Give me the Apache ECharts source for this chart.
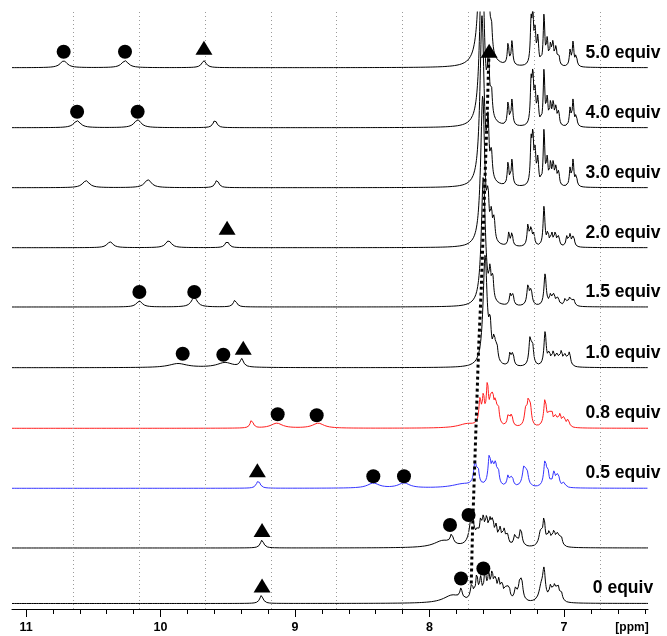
<!DOCTYPE html>
<html>
<head>
<meta charset="utf-8">
<script src="https://cdn.jsdelivr.net/npm/echarts@6/dist/echarts.min.js"></script>
<style>
  html, body { margin: 0; padding: 0; background: #fff; }
  #chart { width: 667px; height: 636px; }
</style>
</head>
<body>
<div id="chart"></div>
<script>
// 1H NMR titration series. Each trace is a list of resonances:
// [chemical shift (ppm), intensity above the trace baseline, half width (ppm)].

const traceLabels = ['0 equiv', '', '0.5 equiv', '0.8 equiv', '1.0 equiv',
                     '1.5 equiv', '2.0 equiv', '3.0 equiv', '4.0 equiv', '5.0 equiv'];

const peaks_0 = [
  [9.250, 8, 0.015],
  [7.830, 8, 0.080], [7.766, 10, 0.010], [7.686, 16, 0.012], [7.649, 24, 0.010],
  [7.620, 20, 0.010], [7.587, 28, 0.010], [7.560, 22, 0.010], [7.535, 25, 0.010],
  [7.510, 20, 0.010], [7.485, 18, 0.010], [7.460, 16, 0.010], [7.430, 12, 0.010],
  [7.410, 14, 0.010], [7.360, 12, 0.012], [7.330, 15, 0.012], [7.315, 17, 0.012],
  [7.170, 14, 0.020], [7.149, 28, 0.012], [7.100, 14, 0.012], [7.070, 14, 0.012],
  [7.045, 14, 0.012], [7.020, 8, 0.010]
];
const peaks_1 = [
  [9.245, 8, 0.015],
  [7.900, 7, 0.080], [7.835, 10, 0.012], [7.686, 32, 0.020], [7.645, 10, 0.010],
  [7.620, 20, 0.010], [7.600, 22, 0.010], [7.575, 24, 0.010], [7.550, 20, 0.010],
  [7.530, 22, 0.010], [7.505, 17, 0.010], [7.475, 16, 0.010], [7.445, 15, 0.010],
  [7.420, 10, 0.010], [7.364, 12, 0.012], [7.322, 18, 0.012], [7.175, 14, 0.015],
  [7.149, 26, 0.010], [7.110, 14, 0.012], [7.075, 14, 0.012], [7.045, 13, 0.012],
  [7.020, 8, 0.010]
];
const peaks_05 = [
  [9.273, 8, 0.015], [8.418, 5, 0.050], [8.190, 5, 0.050],
  [7.750, 4, 0.100], [7.662, 22, 0.012], [7.640, 15, 0.010], [7.555, 30, 0.012],
  [7.530, 18, 0.010], [7.510, 18, 0.010], [7.490, 15, 0.010], [7.416, 11, 0.010],
  [7.387, 11, 0.010], [7.297, 20, 0.015], [7.275, 12, 0.012], [7.141, 26, 0.012],
  [7.120, 12, 0.010], [7.075, 14, 0.012], [7.045, 13, 0.012], [7.000, 5, 0.010]
];
const peaks_08 = [
  [9.322, 9, 0.012], [9.136, 5, 0.050], [8.827, 5, 0.050],
  [7.720, 4, 0.080], [7.625, 24, 0.010], [7.600, 26, 0.010], [7.570, 38, 0.010],
  [7.545, 20, 0.010], [7.530, 22, 0.010], [7.510, 20, 0.010], [7.490, 18, 0.010],
  [7.414, 12, 0.010], [7.390, 12, 0.010], [7.285, 16, 0.012], [7.265, 22, 0.010],
  [7.250, 16, 0.010], [7.141, 28, 0.012], [7.110, 11, 0.010], [7.090, 12, 0.010],
  [7.060, 11, 0.010], [7.030, 12, 0.010], [7.000, 10, 0.010], [6.970, 8, 0.010]
];
const peaks_10 = [
  [9.870, 4, 0.080], [9.520, 5, 0.070], [9.396, 8, 0.015],
  [7.587, 110, 0.018], [7.550, 30, 0.010], [7.520, 22, 0.010], [7.500, 16, 0.010],
  [7.401, 14, 0.008], [7.380, 14, 0.008], [7.253, 26, 0.010], [7.235, 20, 0.010],
  [7.141, 34, 0.010], [7.110, 12, 0.010], [7.080, 13, 0.010], [7.050, 12, 0.010],
  [7.020, 14, 0.010], [6.990, 12, 0.010], [6.960, 14, 0.010]
];
const peaks_15 = [
  [10.157, 6, 0.025], [9.749, 10, 0.025], [9.446, 7, 0.015],
  [7.600, 130, 0.018], [7.550, 26, 0.008], [7.530, 22, 0.008], [7.400, 11, 0.008],
  [7.380, 11, 0.008], [7.268, 20, 0.010], [7.245, 15, 0.010], [7.141, 32, 0.010],
  [7.100, 10, 0.010], [7.075, 11, 0.010], [7.045, 8, 0.010], [6.990, 8, 0.010],
  [6.955, 10, 0.010], [6.930, 7, 0.010]
];
const peaks_20 = [
  [10.375, 6, 0.025], [9.940, 7, 0.025], [9.505, 7, 0.015],
  [7.605, 150, 0.018], [7.565, 35, 0.008], [7.540, 25, 0.008], [7.520, 22, 0.008],
  [7.410, 14, 0.007], [7.387, 14, 0.007], [7.268, 22, 0.008], [7.245, 18, 0.008],
  [7.225, 12, 0.008], [7.149, 40, 0.008], [7.120, 14, 0.008], [7.090, 12, 0.008],
  [7.065, 14, 0.008], [7.040, 10, 0.008], [6.980, 10, 0.008], [6.955, 12, 0.008],
  [6.930, 12, 0.008]
];
const peaks_30 = [
  [10.554, 7, 0.030], [10.093, 8, 0.030], [9.580, 8, 0.015],
  [7.610, 170, 0.018], [7.565, 50, 0.008], [7.540, 25, 0.008], [7.416, 24, 0.007],
  [7.387, 26, 0.007], [7.245, 40, 0.007], [7.232, 45, 0.007], [7.215, 30, 0.007],
  [7.195, 25, 0.007], [7.149, 55, 0.007], [7.125, 25, 0.007], [7.100, 22, 0.007],
  [7.080, 22, 0.007], [7.060, 18, 0.007], [7.040, 14, 0.007], [6.955, 18, 0.007],
  [6.933, 26, 0.007], [6.910, 12, 0.007]
];
const peaks_40 = [
  [10.620, 7, 0.030], [10.170, 8, 0.030], [9.595, 8, 0.015],
  [7.610, 190, 0.018], [7.562, 55, 0.008], [7.540, 25, 0.008], [7.416, 24, 0.007],
  [7.387, 26, 0.007], [7.245, 40, 0.007], [7.232, 45, 0.007], [7.215, 30, 0.007],
  [7.195, 25, 0.007], [7.149, 55, 0.007], [7.125, 25, 0.007], [7.100, 22, 0.007],
  [7.080, 22, 0.007], [7.060, 18, 0.007], [7.040, 14, 0.007], [6.955, 18, 0.007],
  [6.933, 26, 0.007], [6.910, 12, 0.007]
];
const peaks_50 = [
  [10.720, 7, 0.030], [10.264, 7, 0.030], [9.677, 7, 0.020],
  [7.610, 260, 0.018], [7.560, 60, 0.008], [7.540, 25, 0.008], [7.416, 22, 0.007],
  [7.387, 24, 0.007], [7.245, 40, 0.007], [7.232, 44, 0.007], [7.215, 30, 0.007],
  [7.195, 26, 0.007], [7.149, 50, 0.007], [7.125, 24, 0.007], [7.100, 20, 0.007],
  [7.082, 22, 0.007], [7.060, 18, 0.007], [7.040, 12, 0.007], [6.955, 16, 0.007],
  [6.933, 24, 0.007], [6.910, 12, 0.007]
];
const tracePeaks = [peaks_0, peaks_1, peaks_05, peaks_08, peaks_10,
                    peaks_15, peaks_20, peaks_30, peaks_40, peaks_50];

// Assignment markers: [trace index, ppm, height above baseline]
const circleMarks = [
  [9, 10.72, 16], [9, 10.264, 16], [8, 10.62, 16], [8, 10.17, 16],
  [5, 10.157, 15], [5, 9.749, 15], [4, 9.835, 14], [4, 9.533, 13],
  [3, 9.129, 14], [3, 8.839, 13], [2, 8.418, 12], [2, 8.190, 12],
  [1, 7.848, 23], [1, 7.710, 33], [0, 7.766, 25], [0, 7.600, 35]
];
const triangleMarks = [
  [9, 9.677, 20], [9, 7.557, 17], [6, 9.505, 20], [4, 9.385, 20],
  [2, 9.280, 18], [1, 9.245, 18], [0, 9.245, 18]
];
// Position of the tracked resonance in each trace (ppm)
const trackShift = [7.690, 7.680, 7.665, 7.650, 7.635, 7.615, 7.600, 7.585, 7.570, 7.557];

// Axis ticks (ppm)
const majorTicks = [7, 8, 9, 10, 11];
const minorTicks = [6.4, 6.6, 6.8, 7.2, 7.4, 7.6, 7.8, 8.2, 8.4, 8.6, 8.8,
                    9.2, 9.4, 9.6, 9.8, 10.2, 10.4, 10.6, 10.8];
const gridShifts = [10.65, 10.16, 9.67, 9.18, 8.69, 8.20, 7.71, 7.22, 6.73];

// ---- layout & styles ----
const X_MIN = 6.376, X_MAX = 11.104, STEP = 0.002;
const PLOT_TOP = 12, PLOT_BOTTOM = 609;         // pixel rows of plot area
const Y_MAX = PLOT_BOTTOM - PLOT_TOP;
const baselinePx = [603.5, 548, 488.3, 428.3, 367.7, 307, 247.7, 187.7, 127.7, 67.7];
const baseline = baselinePx.map(p => PLOT_BOTTOM - p);
const traceColor = i => (i === 2 ? '#3535ff' : i === 3 ? '#ff1e1e' : '#000000');
const FONT = '"Liberation Sans", Arial, Helvetica, sans-serif';

function buildTrace(peaks, offset) {
  const pts = [];
  const n = Math.round((X_MAX - X_MIN) / STEP);
  for (let k = 0; k <= n; k++) {
    const x = X_MAX - k * STEP;
    let y = 0;
    for (const [p, h, w] of peaks) {
      const d = (x - p) / w;
      y += h / (1 + d * d);
    }
    pts.push([x, offset + y]);
  }
  return pts;
}

const series = [];

// dotted vertical grid
series.push({
  type: 'line', data: [], silent: true, z: 1,
  markLine: {
    silent: true, symbol: 'none', label: { show: false },
    lineStyle: { type: [1, 3], color: '#9a9a9a', width: 1 },
    data: gridShifts.map(v => ({ xAxis: v }))
  }
});

tracePeaks.forEach((pk, i) => {
  series.push({
    type: 'line', data: buildTrace(pk, baseline[i]), showSymbol: false,
    sampling: null, clip: true, z: 3,
    lineStyle: { color: traceColor(i), width: 1 },
    silent: true
  });
});

series.push({
  type: 'line', z: 4, showSymbol: false, silent: true,
  data: trackShift.map((s, i) => [s, baseline[i] + 20]),
  lineStyle: { color: '#000', width: 3, type: [3, 3], opacity: 1 }
});

series.push({
  type: 'scatter', z: 5, symbol: 'circle', symbolSize: 14, silent: true,
  itemStyle: { color: '#000', opacity: 1 },
  data: circleMarks.map(([i, s, h]) => [s, baseline[i] + h])
});
series.push({
  type: 'scatter', z: 5, symbol: 'triangle', symbolSize: [17, 14], silent: true,
  itemStyle: { color: '#000', opacity: 1 },
  data: triangleMarks.map(([i, s, h]) => [s, baseline[i] + h])
});

const chart = echarts.init(document.getElementById('chart'), null, { renderer: 'canvas' });

const option = {
  animation: false,
  backgroundColor: '#fff',
  grid: { left: 12, right: 19, top: PLOT_TOP, bottom: 636 - PLOT_BOTTOM, containLabel: false },
  xAxis: [
    {
      type: 'value', min: X_MIN, max: X_MAX, inverse: true,
      axisLine: { show: true, lineStyle: { color: '#000', width: 1 } },
      axisTick: { show: true, customValues: majorTicks, length: 8, lineStyle: { color: '#000' } },
      axisLabel: {
        show: true, customValues: majorTicks, margin: 12,
        color: '#000', fontSize: 12.5, fontWeight: 'bold', fontFamily: FONT
      },
      splitLine: { show: false }
    },
    {
      type: 'value', min: X_MIN, max: X_MAX, inverse: true, position: 'bottom',
      axisLine: { show: false },
      axisTick: { show: true, customValues: minorTicks, length: 5, lineStyle: { color: '#000' } },
      axisLabel: { show: false },
      splitLine: { show: false }
    }
  ],
  yAxis: { type: 'value', min: 0, max: Y_MAX, show: false, splitLine: { show: false } },
  series
};
chart.setOption(option);

// trace labels and unit label
const graphics = [];
traceLabels.forEach((t, i) => {
  if (!t) return;
  graphics.push({
    type: 'text', x: 623, y: baselinePx[i] - 15, z: 10,
    style: {
      text: t, fill: '#000', font: 'bold 17.5px ' + FONT,
      textAlign: 'center', textVerticalAlign: 'middle'
    }
  });
});
graphics.push({
  type: 'text', x: 632, y: 628, z: 10,
  style: { text: '[ppm]', fill: '#000', font: 'bold 12px ' + FONT,
           textAlign: 'center', textVerticalAlign: 'middle' }
});
chart.setOption({ graphic: graphics });
</script>
</body>
</html>
